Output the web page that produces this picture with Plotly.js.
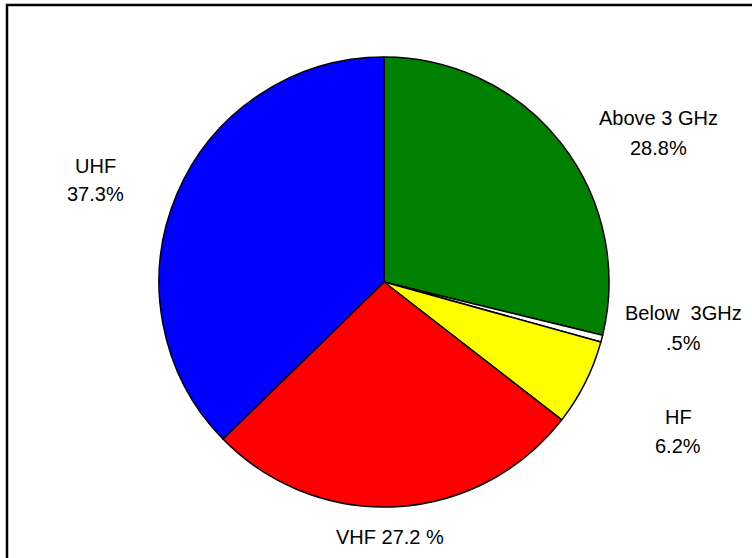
<!DOCTYPE html>
<html>
<head>
<meta charset="utf-8">
<script src="https://cdn.plot.ly/plotly-3.0.1.min.js"></script>
<style>
  html, body { margin: 0; padding: 0; background: #fff; }
  #chart { width: 752px; height: 558px; }
</style>
</head>
<body>
<div id="chart"></div>
<script>
// Data (clockwise from 12 o'clock)
const categories = ["Above 3 GHz", "Below  3GHz", "HF", "VHF", "UHF"];
const shares = [28.8, 0.5, 6.2, 27.2, 37.3];
const shareLabels = ["28.8%", ".5%", "6.2%", "27.2 %", "37.3%"];
const sliceColors = ["#008000", "#FFFFFF", "#FFFF00", "#FF0000", "#0000FF"];

// Label placement (pixels): name line y, value line y (null => same line)
const W = 752, H = 558;
const labelPos = [
  { x: 658, y1: 118, y2: 148 },
  { x: 683, y1: 313, y2: 343 },
  { x: 678, y1: 417, y2: 446 },
  { x: 390, y1: 537, y2: null },
  { x: 95,  y1: 166, y2: 194 }
];

const cx = 384, cy = 282, r = 225;

const trace = {
  type: "pie",
  labels: categories,
  values: shares,
  sort: false,
  direction: "clockwise",
  rotation: 0,
  textinfo: "none",
  hoverinfo: "label+percent",
  marker: { colors: sliceColors, line: { color: "#000000", width: 1.5 } },
  domain: {
    x: [(cx - r) / W, (cx + r) / W],
    y: [1 - (cy + r) / H, 1 - (cy - r) / H]
  }
};

const labelFont = { family: "Liberation Sans, Arial, sans-serif", size: 20, color: "#000" };
const annotations = [];
categories.forEach((c, i) => {
  const p = labelPos[i];
  const base = { xref: "paper", yref: "paper", xanchor: "center", yanchor: "middle",
                 showarrow: false, font: labelFont, x: p.x / W };
  if (p.y2 === null) {
    annotations.push(Object.assign({}, base, { y: 1 - p.y1 / H, text: c + " " + shareLabels[i] }));
  } else {
    annotations.push(Object.assign({}, base, { y: 1 - p.y1 / H, text: c }));
    annotations.push(Object.assign({}, base, { y: 1 - p.y2 / H, text: shareLabels[i] }));
  }
});

const layout = {
  width: W, height: H,
  margin: { l: 0, r: 0, t: 0, b: 0 },
  paper_bgcolor: "#fff",
  showlegend: false,
  annotations: annotations,
  shapes: [{
    type: "rect", xref: "paper", yref: "paper",
    x0: 7 / W, x1: 1.05, y0: -0.05, y1: 1 - 5 / H,
    line: { color: "#000", width: 2.5 }, fillcolor: "rgba(0,0,0,0)"
  }]
};

Plotly.newPlot("chart", [trace], layout, { displayModeBar: false, staticPlot: true });
</script>
</body>
</html>
